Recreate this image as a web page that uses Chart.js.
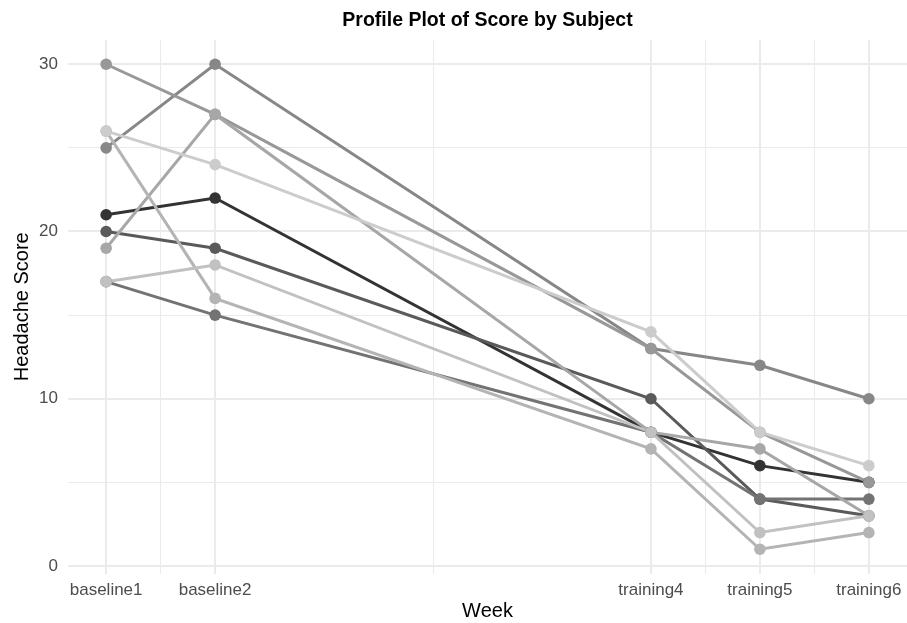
<!DOCTYPE html>
<html>
<head>
<meta charset="utf-8">
<script src="https://cdn.jsdelivr.net/npm/chart.js@4"></script>
<style>
  html, body { margin: 0; padding: 0; background: #fff; }
  #wrap { width: 907px; height: 623px; }
</style>
</head>
<body>
<div id="wrap"><canvas id="profil"></canvas></div>
<script>
// ====== DATA ======
const weekLabels = ["baseline1", "baseline2", "training4", "training5", "training6"];
const weekNum = [1, 2, 6, 7, 8];
const minorX = [1.5, 4, 6.5, 7.5];
const yTicks = [0, 10, 20, 30];
const minorY = [5, 15, 25];

// skor sakit kepala per subjek (urut sesuai warna abu-abu gelap -> terang)
const subj1 = [21, 22, 8, 6, 5];
const subj2 = [20, 19, 10, 4, 3];
const subj3 = [17, 15, 8, 4, 4];
const subj4 = [25, 30, 13, 12, 10];
const subj5 = [30, 27, 13, 8, 5];
const subj6 = [19, 27, 8, 7, 3];
const subj7 = [26, 16, 7, 1, 2];
const subj8 = [17, 18, 8, 2, 3];
const subj9 = [26, 24, 14, 8, 6];
const subjects = [subj1, subj2, subj3, subj4, subj5, subj6, subj7, subj8, subj9];

const greys = ["#333333", "#5A5A5A", "#737373", "#878787", "#989898",
               "#A7A7A7", "#B4B4B4", "#C1C1C1", "#CCCCCC"];

const FONT = "'Liberation Sans', Arial, Helvetica, sans-serif";

// garis dulu, titik di atas semua garis (seperti ggplot)
let datasets = [];
subjects.forEach(function (s, i) {
    datasets.push({
        data: s.map((v, j) => ({ x: weekNum[j], y: v })),
        borderColor: greys[i],
        backgroundColor: greys[i],
        borderWidth: 3,
        pointRadius: 0,
        tension: 0,
        order: 20 - i
    });
});
subjects.forEach(function (s, i) {
    datasets.push({
        data: s.map((v, j) => ({ x: weekNum[j], y: v })),
        showLine: false,
        backgroundColor: greys[i],
        borderColor: greys[i],
        pointRadius: 5.8,
        pointBorderWidth: 0,
        order: 10 - i
    });
});

const judulPlugin = {
    id: "judul",
    afterDraw(chart) {
        const c = chart.ctx;
        const a = chart.chartArea;
        c.save();
        c.font = "bold 19.5px " + FONT;
        c.fillStyle = "#000";
        c.textAlign = "center";
        c.textBaseline = "middle";
        c.fillText("Profile Plot of Score by Subject", (a.left + a.right) / 2, 21);
        c.restore();
    }
};

const isMajorX = v => weekNum.indexOf(v) >= 0;
const isMajorY = v => yTicks.indexOf(v) >= 0;

new Chart(document.getElementById("profil"), {
    type: "line",
    data: { datasets: datasets },
    plugins: [judulPlugin],
    options: {
        responsive: true,
        maintainAspectRatio: false,
        animation: false,
        layout: { autoPadding: false, padding: { top: 40, right: 0, bottom: 0, left: 0 } },
        plugins: {
            legend: { display: false },
            tooltip: { enabled: false }
        },
        scales: {
            x: {
                type: "linear",
                min: 0.65,
                max: 8.35,
                afterBuildTicks: function (scale) {
                    scale.ticks = weekNum.concat(minorX).sort((a, b) => a - b)
                        .map(v => ({ value: v }));
                },
                afterFit: function (scale) {
                    scale.height = 49.5;
                    scale.paddingLeft = 0;
                    scale.paddingRight = 0;
                },
                border: { display: false },
                grid: {
                    drawTicks: true,
                    tickLength: 7,
                    tickColor: "rgba(0,0,0,0)",
                    color: "#EBEBEB",
                    lineWidth: ctx => (ctx.tick && isMajorX(ctx.tick.value)) ? 2 : 1
                },
                ticks: {
                    autoSkip: false,
                    maxRotation: 0,
                    padding: 0,
                    color: "#4D4D4D",
                    font: { family: FONT, size: 17 },
                    callback: function (value) {
                        const k = weekNum.indexOf(value);
                        return k >= 0 ? weekLabels[k] : "";
                    }
                },
                title: {
                    display: true,
                    text: "Week",
                    color: "#000",
                    font: { family: FONT, size: 20 },
                    padding: { top: 0, bottom: 0 }
                }
            },
            y: {
                min: -0.45,
                max: 31.45,
                afterBuildTicks: function (scale) {
                    scale.ticks = yTicks.concat(minorY).sort((a, b) => a - b)
                        .map(v => ({ value: v }));
                },
                afterFit: function (scale) { scale.width = 68; },
                border: { display: false },
                grid: {
                    drawTicks: false,
                    color: "#EBEBEB",
                    lineWidth: ctx => (ctx.tick && isMajorY(ctx.tick.value)) ? 2 : 1
                },
                ticks: {
                    autoSkip: false,
                    padding: 10,
                    color: "#4D4D4D",
                    font: { family: FONT, size: 17 },
                    callback: value => isMajorY(value) ? String(value) : ""
                },
                title: {
                    display: true,
                    text: "Headache Score",
                    color: "#000",
                    font: { family: FONT, size: 20 },
                    padding: { top: 10, bottom: 0 }
                }
            }
        }
    }
});
</script>
</body>
</html>
